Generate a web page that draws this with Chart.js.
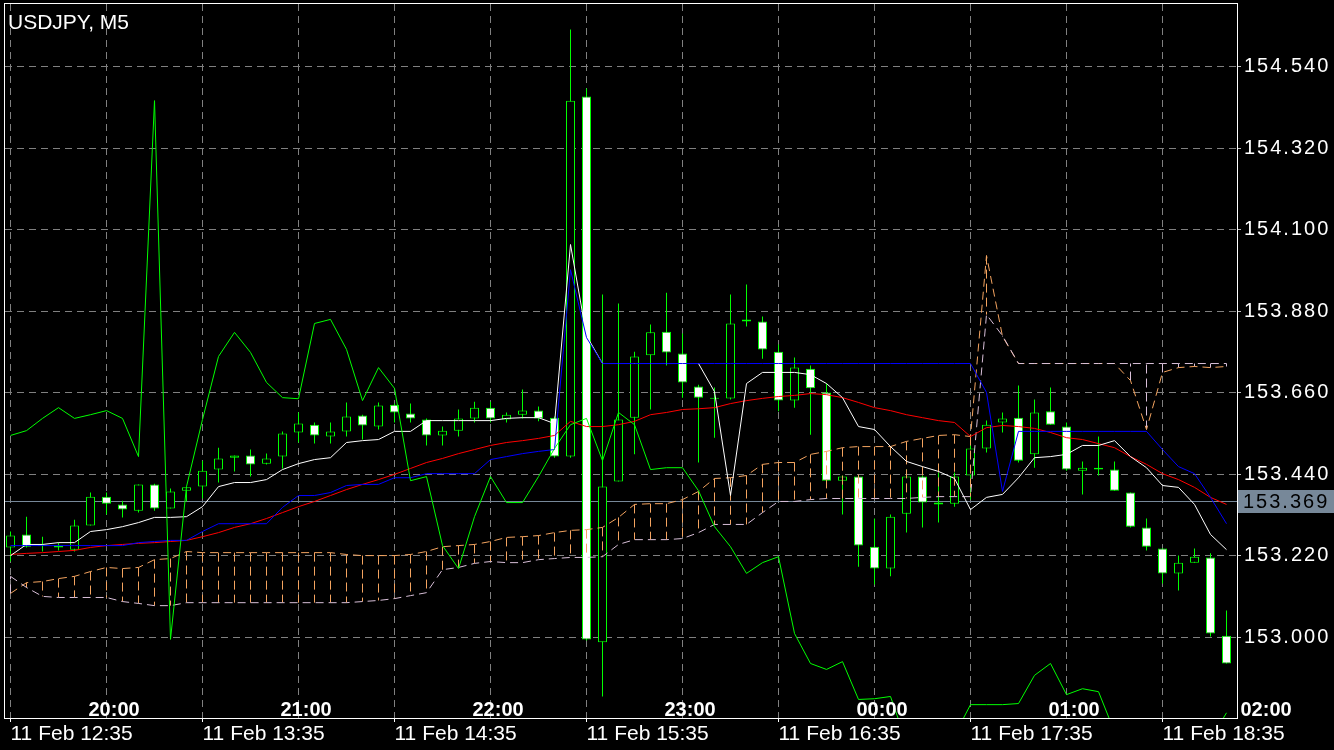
<!DOCTYPE html>
<html><head><meta charset="utf-8">
<script src="https://cdn.jsdelivr.net/npm/chart.js"></script>
<style>html,body{margin:0;padding:0;background:#000;overflow:hidden}canvas{display:block}</style>
</head><body>
<canvas id="c" width="1334" height="750"></canvas>
<script>
const symbolTitle = 'USDJPY, M5';
const open = [153.243,153.278,153.248,153.243,153.237,153.302,153.380,153.359,153.342,153.413,
153.348,153.396,153.407,153.453,153.485,153.491,153.469,153.488,153.553,153.574,
153.542,153.556,153.599,153.569,153.628,153.604,153.588,153.545,153.558,153.591,
153.620,153.588,153.601,153.612,153.593,153.488,154.459,152.987,153.421,153.593,
153.761,153.825,153.766,153.677,153.645,153.645,153.852,153.852,153.771,153.639,
153.725,153.661,153.423,153.434,153.245,153.186,153.334,153.434,153.359,153.361,
153.437,153.510,153.580,153.593,153.494,153.610,153.569,153.450,153.453,153.453,
153.391,153.297,153.240,153.173,153.202,153.216,153.005];
const high = [153.286,153.326,153.272,153.256,153.318,153.391,153.391,153.369,153.413,153.415,
153.402,153.407,153.477,153.512,153.491,153.507,153.496,153.556,153.607,153.580,
153.580,153.634,153.601,153.634,153.631,153.631,153.591,153.569,153.615,153.636,
153.636,153.607,153.669,153.623,153.596,154.640,154.481,153.925,153.901,153.771,
153.844,153.930,153.820,153.682,153.674,153.925,153.952,153.866,153.790,153.755,
153.734,153.685,153.437,153.437,153.321,153.332,153.453,153.437,153.445,153.445,
153.534,153.585,153.607,153.680,153.642,153.674,153.580,153.475,153.542,153.475,
153.391,153.321,153.240,153.221,153.240,153.227,153.073];
const low = [153.205,153.243,153.232,153.235,153.232,153.302,153.332,153.324,153.337,153.342,
153.348,153.367,153.375,153.418,153.448,153.434,153.467,153.456,153.526,153.523,
153.523,153.542,153.534,153.561,153.580,153.580,153.518,153.518,153.542,153.580,
153.580,153.580,153.591,153.583,153.485,153.485,152.992,152.841,153.421,153.494,
153.615,153.734,153.647,153.472,153.539,153.642,153.839,153.752,153.610,153.620,
153.547,153.423,153.332,153.191,153.143,153.165,153.283,153.297,153.310,153.353,
153.372,153.499,153.553,153.472,153.458,153.574,153.450,153.386,153.437,153.396,
153.297,153.235,153.146,153.127,153.202,153.003,152.930];
const close = [153.275,153.245,153.247,153.248,153.302,153.380,153.361,153.345,153.413,153.348,
153.394,153.405,153.450,153.483,153.491,153.467,153.483,153.550,153.577,153.545,
153.556,153.596,153.572,153.626,153.607,153.591,153.545,153.558,153.591,153.620,
153.591,153.601,153.612,153.591,153.488,154.448,152.995,153.407,153.588,153.758,
153.823,153.769,153.688,153.647,153.644,153.847,153.858,153.777,153.639,153.728,
153.672,153.423,153.434,153.248,153.186,153.326,153.434,153.364,153.364,153.434,
153.510,153.574,153.591,153.477,153.607,153.574,153.453,153.458,153.458,153.396,
153.299,153.245,153.173,153.202,153.218,153.011,152.930];
const tenkan = [153.221,153.251,153.251,153.256,153.256,153.286,153.291,153.299,153.310,153.324,
153.324,153.326,153.353,153.407,153.418,153.418,153.426,153.453,153.469,153.480,
153.485,153.526,153.531,153.534,153.556,153.556,153.585,153.585,153.585,153.585,
153.585,153.591,153.593,153.593,153.577,154.060,153.814,153.739,153.739,153.739,
153.739,153.739,153.739,153.739,153.663,153.383,153.685,153.715,153.715,153.715,
153.709,153.685,153.647,153.569,153.561,153.515,153.475,153.461,153.448,153.429,
153.345,153.378,153.386,153.431,153.485,153.488,153.494,153.518,153.518,153.531,
153.488,153.458,153.410,153.405,153.359,153.278,153.237];
const kijun = [153.248,153.248,153.248,153.248,153.248,153.248,153.248,153.248,153.256,153.259,
153.262,153.262,153.286,153.307,153.307,153.307,153.307,153.351,153.383,153.383,
153.391,153.410,153.413,153.413,153.431,153.431,153.442,153.442,153.442,153.442,
153.480,153.488,153.496,153.502,153.507,153.992,153.809,153.739,153.739,153.739,
153.739,153.739,153.739,153.739,153.739,153.739,153.739,153.739,153.739,153.739,
153.739,153.739,153.739,153.739,153.739,153.739,153.739,153.739,153.739,153.739,
153.739,153.661,153.394,153.556,153.556,153.556,153.556,153.556,153.556,153.556,
153.556,153.556,153.507,153.461,153.442,153.378,153.307];
const maLine = [153.224,153.227,153.229,153.232,153.235,153.243,153.248,153.251,153.254,153.256,
153.259,153.262,153.272,153.283,153.297,153.307,153.321,153.337,153.353,153.367,
153.383,153.399,153.413,153.426,153.440,153.456,153.472,153.483,153.496,153.507,
153.518,153.526,153.531,153.537,153.545,153.583,153.569,153.569,153.574,153.583,
153.601,153.607,153.615,153.617,153.620,153.631,153.639,153.645,153.650,153.653,
153.658,153.655,153.647,153.634,153.620,153.612,153.601,153.593,153.585,153.580,
153.542,153.566,153.572,153.569,153.564,153.553,153.539,153.534,153.523,153.512,
153.488,153.467,153.442,153.426,153.405,153.378,153.359];
const chikou = [153.545,153.558,153.591,153.620,153.591,153.601,153.612,153.591,153.488,154.448,
152.995,153.407,153.588,153.758,153.823,153.769,153.688,153.647,153.644,153.847,
153.858,153.777,153.639,153.728,153.672,153.423,153.434,153.248,153.186,153.326,
153.434,153.364,153.364,153.434,153.510,153.574,153.591,153.477,153.607,153.574,
153.453,153.458,153.458,153.396,153.299,153.245,153.173,153.202,153.218,153.011,
152.930,152.914,152.935,152.833,152.835,152.841,152.717,152.684,152.698,152.736,
152.819,152.819,152.819,152.822,152.898,152.930,152.846,152.862,152.854,152.746,
152.671,152.671,152.671,152.671,152.671,152.725,152.797];
const spanA = [153.119,153.148,153.151,153.159,153.165,153.178,153.189,153.186,153.189,153.210,
153.213,153.232,153.229,153.229,153.229,153.229,153.229,153.229,153.229,153.229,
153.229,153.224,153.221,153.221,153.221,153.224,153.232,153.245,153.248,153.251,
153.259,153.270,153.272,153.275,153.283,153.289,153.291,153.297,153.324,153.359,
153.361,153.361,153.372,153.394,153.429,153.431,153.437,153.467,153.472,153.472,
153.494,153.502,153.512,153.515,153.515,153.515,153.529,153.537,153.545,153.547,
153.542,154.030,153.812,153.739,153.739,153.739,153.739,153.739,153.739,153.739,
153.693,153.561,153.715,153.728,153.731,153.728,153.731];
const spanB = [153.165,153.135,153.111,153.108,153.108,153.108,153.108,153.097,153.092,153.086,
153.086,153.094,153.094,153.094,153.094,153.094,153.094,153.094,153.094,153.094,
153.094,153.094,153.097,153.100,153.105,153.113,153.121,153.183,153.189,153.200,
153.205,153.202,153.202,153.210,153.213,153.216,153.216,153.218,153.251,153.264,
153.264,153.264,153.267,153.283,153.305,153.305,153.305,153.337,153.367,153.367,
153.372,153.375,153.375,153.375,153.375,153.375,153.375,153.378,153.380,153.380,
153.380,153.871,153.814,153.739,153.739,153.739,153.739,153.739,153.739,153.739,
153.739,153.739,153.739,153.739,153.739,153.739,153.739];

const priceTicks = [153.000,153.220,153.440,153.660,153.880,154.100,154.320,154.540];
const gridBars = [0,6,12,18,24,30,36,42,48,54,60,66,72];
const timeLabelBars = [0,12,24,36,48,60,72];
const timeLabels = ['11 Feb 12:35','11 Feb 13:35','11 Feb 14:35','11 Feb 15:35','11 Feb 16:35','11 Feb 17:35','11 Feb 18:35'];
const localLabelBars = [5,17,29,41,53,65,77];
const localLabels = ['20:00','21:00','22:00','23:00','00:00','01:00','02:00'];
const bidPrice = 153.369;
const priceMin = 152.783, priceMax = 154.7086;
const barMin = -0.34375, barMax = 76.65625;

const LIME = '#00ff00', SANDY = '#f4a460', THISTLE = '#d8bfd8', GRID = '#808080', BIDCOL = '#778899';
const FONT = "'Liberation Sans', Arial, sans-serif";

const idx = open.map((_, i) => i);
const pts = arr => arr.map((v, i) => ({x: i, y: v}));
const hatch = cond => {
  const d = [];
  idx.forEach(i => {
    if (cond(spanA[i], spanB[i])) d.push({x: i, y: spanA[i]}, {x: i, y: spanB[i]}, {x: i, y: null});
  });
  return d;
};
const lineDs = (data, color, order, extra) => Object.assign({
  type: 'line', data, borderColor: color, borderWidth: 1, pointRadius: 0, tension: 0, fill: false, order
}, extra || {});

const datasets = [
  {type: 'bar', data: idx.map(i => ({x: i, y: [low[i], high[i]]})), backgroundColor: LIME, borderWidth: 0,
   barThickness: 1, grouped: false, order: 20, inflateAmount: 0},
  {type: 'bar', data: idx.map(i => ({x: i, y: [open[i], close[i]]})),
   backgroundColor: idx.map(i => close[i] > open[i] ? '#000000' : (close[i] < open[i] ? '#ffffff' : LIME)),
   borderColor: LIME, borderWidth: 1, borderSkipped: false, barThickness: 9, grouped: false, order: 19,
   minBarLength: 1, inflateAmount: 0},
  lineDs(hatch((a, b) => a >= b), SANDY, 15, {borderDash: [9, 5], spanGaps: false}),
  lineDs(hatch((a, b) => a < b), THISTLE, 14, {borderDash: [9, 5], spanGaps: false}),
  lineDs(pts(spanA), SANDY, 13, {borderDash: [8, 5]}),
  lineDs(pts(spanB), THISTLE, 12, {borderDash: [8, 5]}),
  lineDs(pts(maLine), '#ff0000', 5),
  lineDs(pts(tenkan), '#ffffff', 4),
  lineDs(pts(kijun), '#0000ff', 3),
  lineDs(pts(chikou), LIME, 2)
];

const mt4Plugin = {
  id: 'mt4',
  beforeDraw(chart) {
    const c = chart.ctx;
    c.save(); c.fillStyle = '#000'; c.fillRect(0, 0, chart.width, chart.height); c.restore();
  },
  beforeDatasetsDraw(chart) {
    const c = chart.ctx, ca = chart.chartArea;
    const y = Math.round(chart.scales.y.getPixelForValue(bidPrice)) + 0.5;
    c.save(); c.strokeStyle = BIDCOL; c.lineWidth = 1;
    c.beginPath(); c.moveTo(ca.left, y); c.lineTo(ca.right, y); c.stroke(); c.restore();
  },
  afterDatasetsDraw(chart) {
    const c = chart.ctx, ca = chart.chartArea, xs = chart.scales.x;
    c.save();
    c.strokeStyle = '#ffffff'; c.lineWidth = 1;
    c.strokeRect(ca.left - 0.5, ca.top - 0.5, ca.width + 1, ca.height + 1);
    c.fillStyle = '#ffffff';
    c.font = "bold 20px " + FONT; c.textAlign = 'left'; c.textBaseline = 'alphabetic';
    localLabels.forEach((t, k) => c.fillText(t, xs.getPixelForValue(localLabelBars[k]) - 2, ca.bottom - 2));
    c.font = "21px " + FONT;
    c.fillText(symbolTitle, ca.left + 3, ca.top + 25);
    c.restore();
    c.letterSpacing = '2px';
  },
  afterDraw(chart) {
    const c = chart.ctx, ca = chart.chartArea;
    const y = Math.round(chart.scales.y.getPixelForValue(bidPrice)) + 0.5;
    c.save();
    c.fillStyle = BIDCOL;
    c.fillRect(ca.right + 1, y - 11.5, chart.width - ca.right - 1, 23);
    c.fillStyle = '#000000'; c.font = "20px " + FONT; c.textAlign = 'left'; c.textBaseline = 'middle';
    c.fillText(bidPrice.toFixed(3), ca.right + 6, y + 1);
    c.restore();
    c.letterSpacing = '0px';
  }
};

Chart.defaults.font.family = FONT;
new Chart(document.getElementById('c'), {
  type: 'bar',
  data: {datasets},
  plugins: [mt4Plugin],
  options: {
    responsive: false, animation: false, devicePixelRatio: 1,
    layout: {padding: {left: 5, top: 4, right: 0, bottom: 0}},
    plugins: {legend: {display: false}, tooltip: {enabled: false}},
    scales: {
      x: {
        type: 'linear', min: barMin, max: barMax, bounds: 'data', offset: false,
        afterBuildTicks: s => { s.ticks = gridBars.map(v => ({value: v})); },
        afterFit: s => { s.height = 32; s.paddingLeft = 0; s.paddingRight = 0; },
        grid: {offset: false, color: GRID, lineWidth: 1, drawTicks: true, tickLength: 4,
               tickColor: ctx => (ctx.tick && timeLabelBars.includes(ctx.tick.value)) ? '#ffffff' : 'rgba(0,0,0,0)'},
        border: {display: false, dash: [7, 5]},
        ticks: {autoSkip: false, maxRotation: 0, minRotation: 0, align: 'start', padding: 0, color: '#ffffff',
                font: {family: FONT, size: 21},
                callback: v => { const k = timeLabelBars.indexOf(v); return k >= 0 ? timeLabels[k] : ''; }}
      },
      y: {
        type: 'linear', position: 'right', min: priceMin, max: priceMax, bounds: 'data', beginAtZero: false,
        afterBuildTicks: s => { s.ticks = priceTicks.map(v => ({value: v})); },
        afterFit: s => { s.width = 97; s.paddingTop = 0; s.paddingBottom = 0; },
        grid: {color: GRID, lineWidth: 1, drawTicks: true, tickLength: 4, tickColor: '#c0c0c0'},
        border: {display: false, dash: [7, 5]},
        ticks: {color: '#ffffff', padding: 3, font: {family: FONT, size: 20}, z: 1,
                callback: v => v.toFixed(3)}
      }
    }
  }
});
</script>
</body></html>
